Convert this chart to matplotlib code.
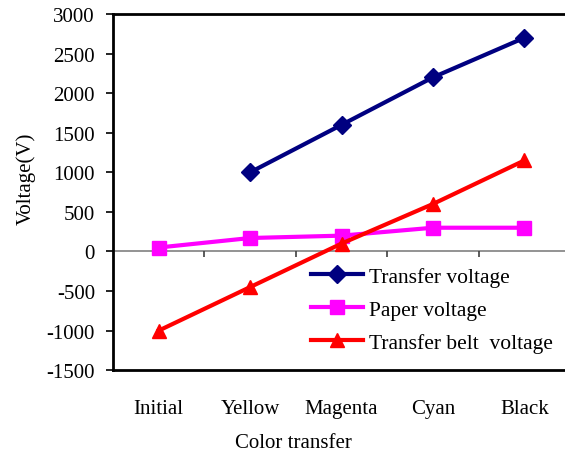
import matplotlib.pyplot as plt
import numpy as np

plt.rcParams['font.family'] = ['Liberation Serif', 'DejaVu Serif']
plt.rcParams['axes.unicode_minus'] = False

categories = ['Initial', 'Yellow', 'Magenta', 'Cyan', 'Black']
transfer_v = [np.nan, 1000, 1600, 2200, 2700]
paper_v = [50, 170, 200, 300, 300]
belt_v = [-1000, -450, 100, 600, 1150]
yticks = list(range(-1500, 3001, 500))

fig = plt.figure(figsize=(5.65, 4.56), dpi=100)
ax = fig.add_axes([0.200, 0.186, 0.809, 0.781])

x = np.arange(len(categories))

ax.plot(x, transfer_v, color='#000080', lw=3, marker='D', ms=9,
        label='Transfer voltage')
ax.plot(x, paper_v, color='#FF00FF', lw=3, marker='s', ms=10,
        label='Paper voltage')
ax.plot(x, belt_v, color='#FF0000', lw=3, marker='^', ms=10,
        label='Transfer belt  voltage')

# category axis crossing at zero, with ticks between categories
ax.axhline(0, color='#808080', lw=1.2, zorder=0)
ax.vlines(x[:-1] + 0.5, -65, 0, color='#404040', lw=1.2, zorder=0)

ax.set_xlim(-0.5, len(categories) - 0.5)
ax.set_ylim(-1500, 3000)
ax.set_yticks(yticks)
ax.set_xticks(x)
ax.set_xticklabels(categories)
ax.tick_params(axis='x', length=0, pad=21, labelsize=15)
ax.tick_params(axis='y', direction='out', length=5, width=1.2, labelsize=15, pad=8)

for s in ax.spines.values():
    s.set_linewidth(2)

ax.set_xlabel('Color transfer', fontsize=15)
ax.xaxis.set_label_coords(0.395, -0.175)
ax.set_ylabel('Voltage(V)', fontsize=15)
ax.yaxis.set_label_coords(-0.17, 0.54)

ax.legend(loc='upper left', bbox_to_anchor=(0.415, 0.315), frameon=False,
          fontsize=15.5, handlelength=2.4, handletextpad=0.3, labelspacing=0.6,
          borderaxespad=0)

fig.savefig('out.png', dpi=100)
